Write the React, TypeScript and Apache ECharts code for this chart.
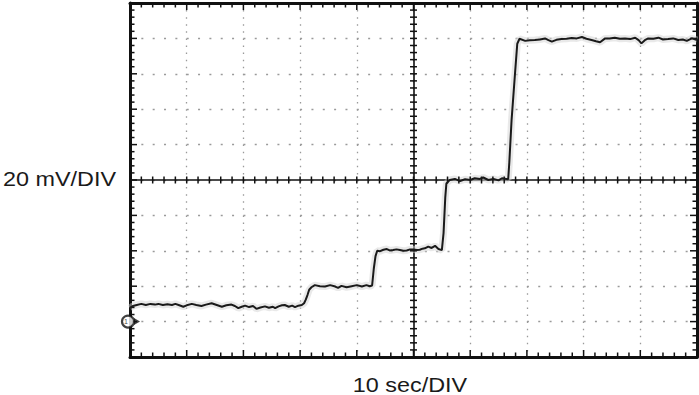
import React, { useEffect, useRef } from "react";
import * as echarts from "echarts";

// Trace readings in divisions (x: 0..10 horizontal divisions, y: 0..10 vertical divisions)
const level1: [number, number][] = [
  [0.0, 1.38], [0.05, 1.44], [0.12, 1.47], [0.2, 1.5], [0.28, 1.47], [0.36, 1.5], [0.44, 1.48],
  [0.5, 1.5], [0.58, 1.47], [0.66, 1.49], [0.74, 1.47], [0.8, 1.5], [0.87, 1.46], [0.94, 1.42],
  [1.0, 1.46], [1.09, 1.5], [1.17, 1.47], [1.26, 1.44], [1.34, 1.48], [1.44, 1.52], [1.53, 1.47],
  [1.62, 1.42], [1.7, 1.46], [1.79, 1.48], [1.85, 1.44], [1.91, 1.38], [1.97, 1.42], [2.03, 1.45],
  [2.1, 1.41], [2.17, 1.44], [2.23, 1.36], [2.3, 1.4], [2.38, 1.43], [2.45, 1.39], [2.52, 1.42],
  [2.56, 1.38], [2.62, 1.43], [2.68, 1.46], [2.73, 1.47], [2.8, 1.42], [2.86, 1.45], [2.91, 1.41],
  [2.97, 1.45], [3.03, 1.47], [3.07, 1.52],
];
const step1: [number, number][] = [[3.1, 1.62], [3.13, 1.75], [3.16, 1.9], [3.2, 1.97]];
const level2: [number, number][] = [
  [3.26, 2.03], [3.35, 2.0], [3.44, 1.99], [3.53, 2.03], [3.62, 1.99], [3.67, 1.95], [3.73, 2.01],
  [3.82, 1.97], [3.91, 2.0], [4.0, 2.03], [4.09, 1.99], [4.17, 2.03], [4.23, 2.0], [4.27, 2.02],
];
const step2: [number, number][] = [[4.3, 2.5], [4.33, 2.85], [4.36, 3.0]];
const level3: [number, number][] = [
  [4.41, 2.99], [4.47, 3.03], [4.53, 3.05], [4.58, 3.01], [4.64, 3.02], [4.7, 3.04], [4.76, 3.02],
  [4.82, 3.0], [4.88, 3.01], [4.94, 3.04], [5.0, 3.04], [5.06, 3.02], [5.11, 3.03], [5.16, 3.06],
  [5.2, 3.07], [5.26, 3.12], [5.32, 3.08], [5.38, 3.14], [5.44, 3.05], [5.5, 3.02],
];
const step3: [number, number][] = [[5.53, 3.5], [5.56, 4.5], [5.58, 4.9], [5.62, 4.97]];
const level4: [number, number][] = [
  [5.64, 5.0], [5.73, 5.03], [5.82, 4.97], [5.91, 5.02], [6.0, 5.0], [6.08, 5.05], [6.17, 5.03],
  [6.23, 5.07], [6.32, 5.0], [6.41, 5.03], [6.5, 4.99], [6.56, 5.05], [6.64, 5.03], [6.67, 5.02],
];
const step4: [number, number][] = [[6.69, 5.5], [6.73, 6.7], [6.79, 8.0], [6.83, 8.85], [6.87, 8.99]];
const level5: [number, number][] = [
  [6.97, 8.93], [7.05, 8.95], [7.14, 8.955], [7.23, 8.97], [7.32, 9.0], [7.38, 8.95], [7.44, 8.91],
  [7.52, 8.96], [7.61, 8.98], [7.7, 8.99], [7.79, 9.01], [7.88, 9.0], [7.97, 9.04], [8.05, 8.99],
  [8.14, 8.955], [8.22, 8.92], [8.29, 8.89], [8.38, 9.0], [8.46, 9.0], [8.55, 9.02], [8.64, 8.99],
  [8.73, 9.0], [8.82, 8.98], [8.91, 9.02], [8.97, 8.95], [9.02, 8.86], [9.08, 8.95], [9.14, 9.0],
  [9.23, 8.99], [9.32, 9.02], [9.4, 8.97], [9.49, 8.98], [9.58, 9.0], [9.67, 8.955], [9.75, 8.97],
  [9.82, 8.93], [9.91, 9.0], [10.0, 8.955],
];
const groundMarker: [number, number][] = [[0, 1.0]];

const xLabel = "10 sec/DIV";
const yLabel = "20 mV/DIV";

// Graticule: 10 x 10 divisions, 5 minor ticks per division
const X_MIN = 0, X_MAX = 10, Y_MIN = 0, Y_MAX = 10;
const MINOR_PER_DIV = 5;

export default function App() {
  const ref = useRef<HTMLDivElement>(null);
  useEffect(() => {
    if (!ref.current) return;
    const chart = echarts.init(ref.current, undefined, { renderer: "svg" });
    const trace = [...level1, ...step1, ...level2, ...step2, ...level3, ...step3, ...level4, ...step4, ...level5];
    const ink = "#111111";
    const GW = 567, GH = 354;
    const xMid = (X_MIN + X_MAX) / 2, yMid = (Y_MIN + Y_MAX) / 2;

    // Graticule tick marks, placed through the axes' own scale as rect symbols
    const tickMarks: any[] = [];
    for (let i = 0; i <= (X_MAX - X_MIN) * MINOR_PER_DIV; i++) {
      const v = X_MIN + i / MINOR_PER_DIV;
      const major = i % MINOR_PER_DIV === 0;
      const L = major ? 7 : 4.5;
      const w = 1.5;
      const C = 7;
      tickMarks.push(
        { value: [v, Y_MIN], symbolSize: [w, L], symbolOffset: [0, -L / 2] },
        { value: [v, Y_MAX], symbolSize: [w, L], symbolOffset: [0, L / 2] },
        { value: [v, yMid], symbolSize: [w, C], symbolOffset: [0, 0] },
        { value: [X_MIN, v], symbolSize: [L, w], symbolOffset: [L / 2, 0] },
        { value: [X_MAX, v], symbolSize: [L, w], symbolOffset: [-L / 2, 0] },
        { value: [xMid, v], symbolSize: [C, w], symbolOffset: [0, 0] },
      );
    }

    const axisBase = (extra: any) => ({
      type: "value",
      interval: 1,
      axisLine: { show: true, onZero: false, lineStyle: { color: ink, width: 3 } },
      axisTick: { show: false },
      minorTick: { show: false },
      axisLabel: { show: false },
      splitLine: { show: false },
      ...extra,
    });

    chart.setOption({
      animation: false,
      grid: { left: 130, top: 3, width: GW, height: GH },
      xAxis: [
        axisBase({
          position: "bottom",
          min: X_MIN,
          max: X_MAX,
          splitLine: { show: true, lineStyle: { color: "#9a9a9a", width: 1.3, type: [1.5, 5.58] } },
        }),
        axisBase({ position: "top", min: X_MIN, max: X_MAX }),
        axisBase({ position: "bottom", offset: -GH / 2, min: X_MIN, max: X_MAX, axisLine: { show: true, onZero: false, lineStyle: { color: ink, width: 1.6 } } }),
      ],
      yAxis: [
        axisBase({
          position: "left",
          min: Y_MIN,
          max: Y_MAX,
          splitLine: { show: true, lineStyle: { color: "#9a9a9a", width: 1.3, type: [2, 9.34] } },
        }),
        axisBase({ position: "right", min: Y_MIN, max: Y_MAX }),
        axisBase({ position: "left", offset: -GW / 2, min: Y_MIN, max: Y_MAX, axisLine: { show: true, onZero: false, lineStyle: { color: ink, width: 1.6 } } }),
      ],
      series: [
        {
          type: "scatter",
          data: tickMarks,
          xAxisIndex: 0,
          yAxisIndex: 0,
          symbol: "rect",
          clip: false,
          itemStyle: { color: ink, opacity: 1 },
          emphasis: { disabled: true },
          z: 2,
          silent: true,
        },
        {
          type: "line",
          data: trace,
          xAxisIndex: 0,
          yAxisIndex: 0,
          showSymbol: false,
          symbol: "none",
          lineStyle: { color: "#d4d4d4", width: 7, opacity: 0.5 },
          z: 1,
          silent: true,
        },
        {
          type: "line",
          data: trace,
          xAxisIndex: 0,
          yAxisIndex: 0,
          showSymbol: false,
          symbol: "none",
          lineStyle: { color: "#1a1a1a", width: 2 },
          z: 3,
          silent: true,
        },
        {
          type: "scatter",
          data: groundMarker,
          xAxisIndex: 0,
          yAxisIndex: 0,
          clip: false,
          symbol: "triangle",
          symbolSize: [7, 6],
          symbolRotate: -90,
          symbolOffset: [7, 0],
          itemStyle: { color: ink },
          z: 5,
          silent: true,
        },
        {
          type: "scatter",
          data: groundMarker,
          xAxisIndex: 0,
          yAxisIndex: 0,
          clip: false,
          symbol: "circle",
          symbolSize: 12,
          symbolOffset: [-2, 0],
          itemStyle: { color: "#fff", borderColor: ink, borderWidth: 2.2 },
          label: { show: true, position: "inside", formatter: "1", fontSize: 7, color: ink, offset: [-2, 0] },
          z: 6,
          silent: true,
        },
      ],
      graphic: [
        {
          type: "text",
          x: 3,
          y: 179,
          scaleX: 1.17,
          style: {
            text: yLabel,
            fontSize: 20,
            fontFamily: "Liberation Sans, Arial, sans-serif",
            fill: "#1a1a1a",
            verticalAlign: "middle",
            align: "left",
          },
        },
        {
          type: "text",
          x: 410,
          y: 385,
          scaleX: 1.17,
          style: {
            text: xLabel,
            fontSize: 20,
            fontFamily: "Liberation Sans, Arial, sans-serif",
            fill: "#1a1a1a",
            verticalAlign: "middle",
            align: "center",
          },
        },
      ],
    });
    return () => chart.dispose();
  }, []);
  return <div ref={ref} style={{ width: 699, height: 395, position: "absolute", left: 0, top: 0 }} />;
}
